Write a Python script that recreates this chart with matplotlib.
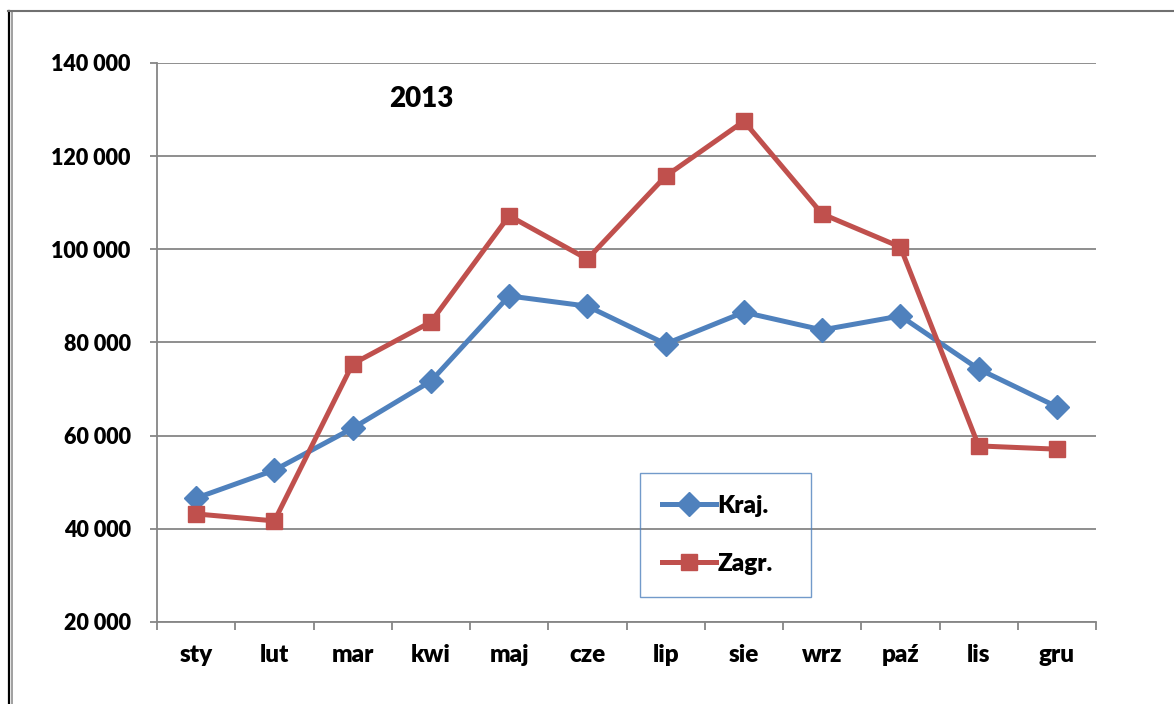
import matplotlib
matplotlib.use('Agg')
import matplotlib.pyplot as plt
from matplotlib.lines import Line2D
from matplotlib.ticker import FuncFormatter
import numpy as np

months = ['sty', 'lut', 'mar', 'kwi', 'maj', 'cze', 'lip', 'sie', 'wrz', 'paź', 'lis', 'gru']
kraj = [46600, 52600, 61600, 71700, 90000, 87800, 79700, 86500, 82700, 85700, 74300, 66200]
zagr = [43200, 41700, 75400, 84400, 107200, 97900, 115700, 127500, 107600, 100500, 57800, 57100]
year_label = '2013'

W = 800  # heavy weight, closest to Calibri Bold look
plt.rcParams['font.family'] = 'Lato'
plt.rcParams['font.weight'] = W

BLUE = '#4F81BD'
RED = '#C0504D'
GRID = '#868686'

fig = plt.figure(figsize=(11.74, 7.04), dpi=100)
ax = fig.add_axes([157 / 1174, 82 / 704, 939 / 1174, 559 / 704])

x = np.arange(len(months))
ax.plot(x, kraj, color=BLUE, lw=3.6, marker='D', ms=12, label='Kraj.', zorder=3)
ax.plot(x, zagr, color=RED, lw=3.6, marker='s', ms=12, label='Zagr.', zorder=3)

ax.set_xlim(-0.5, len(months) - 0.5)
ax.set_ylim(20000, 140000)
ax.set_yticks(np.arange(20000, 140001, 20000))
ax.yaxis.set_major_formatter(FuncFormatter(lambda v, p: f'{int(v):,}'.replace(',', ' ')))
ax.grid(axis='y', color=GRID, lw=1.3)
ax.set_axisbelow(True)

ax.set_xticks(x)
ax.set_xticklabels(months, fontweight=W)
ax.set_xticks(np.arange(-0.5, len(months), 1), minor=True)
ax.tick_params(axis='x', which='major', length=0, pad=16, labelsize=17.5)
ax.tick_params(axis='x', which='minor', length=6, width=1.3, color=GRID, direction='out')
ax.tick_params(axis='y', length=5, width=1.3, color=GRID, pad=14, labelsize=15.5)
for lab in ax.get_yticklabels():
    lab.set_fontweight(W)

for s in ['top', 'right']:
    ax.spines[s].set_visible(False)
for s in ['left', 'bottom']:
    ax.spines[s].set_color(GRID)
    ax.spines[s].set_linewidth(1.3)

ax.text(0.282, 0.935, year_label, transform=ax.transAxes, ha='center', va='center',
        fontsize=20, fontweight=W)

leg = ax.legend(loc='lower left', bbox_to_anchor=(0.514, 0.045, 0.183, 0.22), mode='expand',
                frameon=True, fancybox=False, edgecolor=BLUE, facecolor='none',
                labelspacing=1.5, handlelength=2.25, handletextpad=0.05,
                borderpad=0.9, borderaxespad=0, prop={'weight': W, 'size': 17.5})
leg.get_frame().set_linewidth(1.0)

# frame of the original picture
fig.add_artist(Line2D([8.5 / 1174, 8.5 / 1174], [0, 1 - 11 / 704], color='black', lw=1.6))
fig.add_artist(Line2D([12 / 1174, 12 / 1174], [0, 1 - 11 / 704], color='#909090', lw=1.2))
fig.add_artist(Line2D([8 / 1174, 1], [1 - 11 / 704, 1 - 11 / 704], color='#707070', lw=1.5))

fig.savefig('out.png', dpi=100)
